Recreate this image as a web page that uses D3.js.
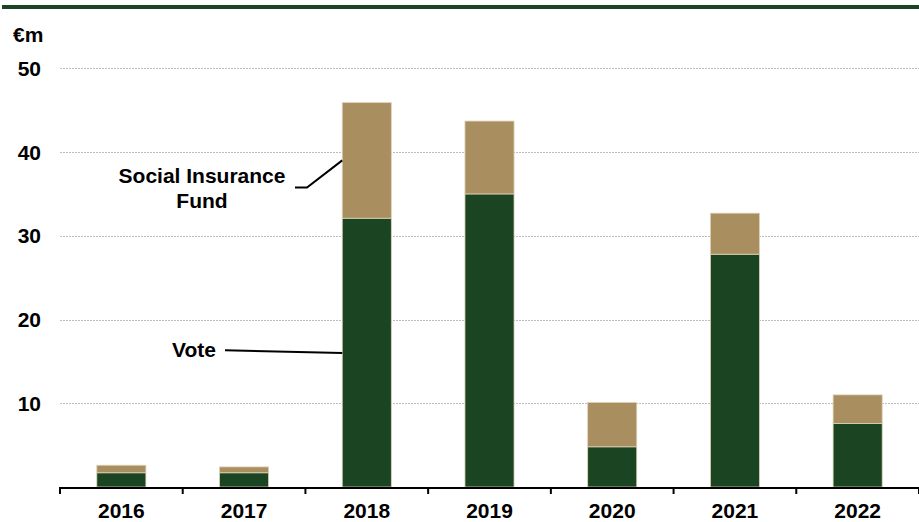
<!DOCTYPE html>
<html>
<head>
<meta charset="utf-8">
<script src="https://cdn.jsdelivr.net/npm/d3@7"></script>
<style>
  html, body { margin: 0; padding: 0; background: #fff; }
  svg { display: block; font-family: "Liberation Sans", Arial, sans-serif; }
</style>
</head>
<body>
<svg id="chart" width="919" height="522"></svg>
<script>
// Funding by year, € million
const years = ["2016", "2017", "2018", "2019", "2020", "2021", "2022"];
const vote = [1.7, 1.7, 32.1, 35.0, 4.8, 27.8, 7.6];
const socialInsuranceFund = [0.9, 0.7, 13.8, 8.7, 5.3, 4.9, 3.4];
const yTicks = [10, 20, 30, 40, 50];
const seriesNames = ["Vote", "Social Insurance Fund"];

const colors = { "Vote": "#1b4522", "Social Insurance Fund": "#a98e5f" };
const dark = "#1b4522";
const fs = 21;

const W = 919, H = 522;
const margin = { left: 60 };
const svg = d3.select("#chart");

const x = d3.scaleBand().domain(years).range([margin.left, W]).paddingInner(0.6).paddingOuter(0.3);
const y = d3.scaleLinear().domain([0, 50]).range([487, 68.3]);

// top rule
svg.append("rect").attr("x", 2).attr("y", 5).attr("width", W - 2).attr("height", 4).attr("fill", dark);

// unit label
svg.append("text").attr("x", 13).attr("y", 42).attr("font-size", fs).attr("font-weight", "bold").text("€m");

// gridlines
svg.append("g").selectAll("line").data(yTicks).join("line")
  .attr("x1", margin.left).attr("x2", W)
  .attr("y1", d => Math.round(y(d)) + 0.5).attr("y2", d => Math.round(y(d)) + 0.5)
  .attr("stroke", "#bdbdbd").attr("stroke-width", 1).attr("stroke-dasharray", "2,1");

// y tick labels
svg.append("g").selectAll("text").data(yTicks).join("text")
  .attr("x", 41).attr("y", d => y(d)).attr("dy", "0.36em")
  .attr("text-anchor", "end").attr("font-size", fs).attr("font-weight", "bold")
  .text(d => d);

// stacked bars
const rows = years.map((yr, i) => ({ year: yr, "Vote": vote[i], "Social Insurance Fund": socialInsuranceFund[i] }));
const stacked = d3.stack().keys(seriesNames)(rows);

svg.append("g").selectAll("g").data(stacked).join("g")
  .attr("fill", d => colors[d.key])
  .selectAll("rect").data(d => d).join("rect")
  .attr("x", d => x(d.data.year))
  .attr("width", x.bandwidth())
  .attr("y", d => y(d[1]))
  .attr("height", d => y(d[0]) - y(d[1]))
  .attr("stroke", "#ddd3b8").attr("stroke-width", 0.8);

// x axis
const step = x.step();
const bounds = d3.range(years.length + 1).map(i => margin.left + i * step);
const axisG = svg.append("g");
axisG.append("line").attr("x1", margin.left - 1).attr("x2", W).attr("y1", 488).attr("y2", 488)
  .attr("stroke", "#000").attr("stroke-width", 2);
axisG.selectAll("line.tick").data(bounds).join("line").attr("class", "tick")
  .attr("x1", d => d).attr("x2", d => d).attr("y1", 488).attr("y2", 494)
  .attr("stroke", "#000").attr("stroke-width", 2);
axisG.selectAll("text").data(years).join("text")
  .attr("x", d => x(d) + x.bandwidth() / 2).attr("y", 518)
  .attr("text-anchor", "middle").attr("font-size", fs).attr("font-weight", "bold")
  .text(d => d);

// series annotations, pointing into the 2018 bar
const barLeft = x("2018");
const sifPoint = 39;   // value where the Social Insurance Fund leader meets the bar
const votePoint = 16;  // value where the Vote leader meets the bar
svg.append("polyline")
  .attr("points", [[295, 187.5], [307, 187.5], [barLeft, y(sifPoint)]].map(p => p.join(",")).join(" "))
  .attr("fill", "none").attr("stroke", "#000").attr("stroke-width", 2);
const sifText = svg.append("text").attr("text-anchor", "middle").attr("font-size", fs).attr("font-weight", "bold");
sifText.append("tspan").attr("x", 202).attr("y", 183).text("Social Insurance");
sifText.append("tspan").attr("x", 202).attr("y", 208).text("Fund");

svg.append("line").attr("x1", 225).attr("y1", 350.3).attr("x2", barLeft).attr("y2", y(votePoint))
  .attr("stroke", "#000").attr("stroke-width", 2);
svg.append("text").attr("x", 216).attr("y", 357).attr("text-anchor", "end")
  .attr("font-size", fs).attr("font-weight", "bold").text("Vote");
</script>
</body>
</html>
